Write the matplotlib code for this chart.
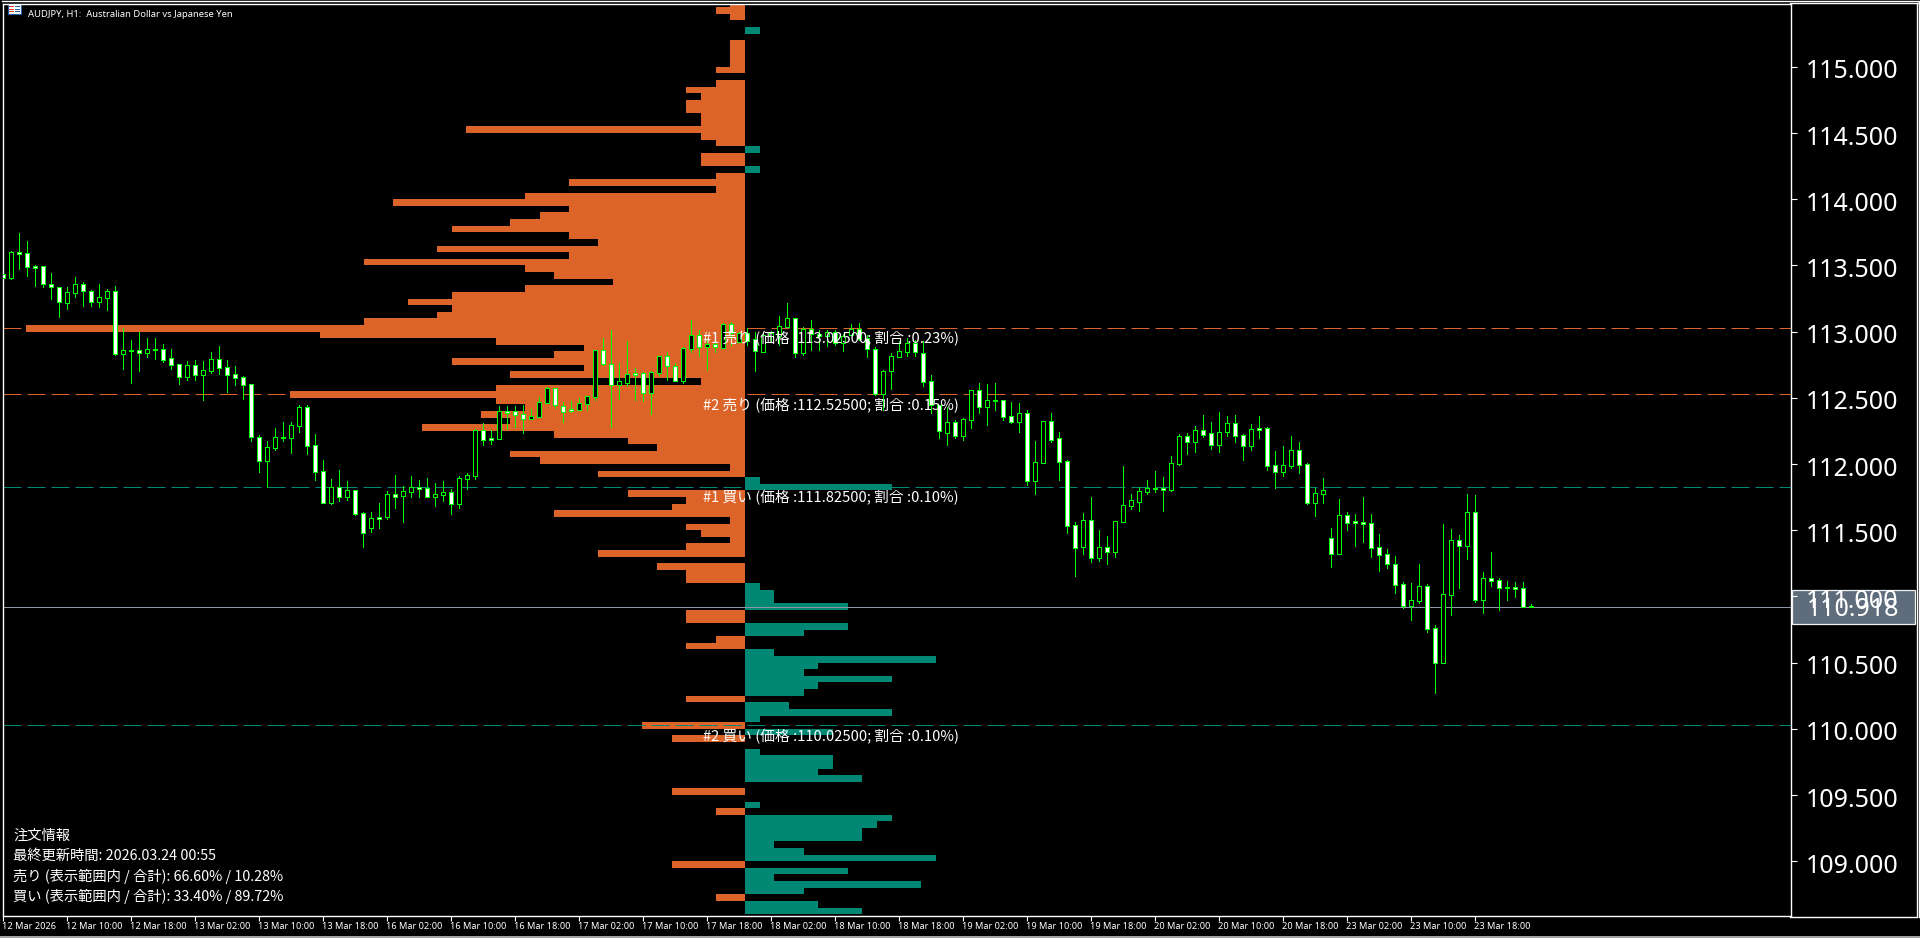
import numpy as np
import matplotlib
matplotlib.use("Agg")
import matplotlib.pyplot as plt
from matplotlib.patches import Rectangle
from matplotlib.lines import Line2D
from matplotlib.transforms import Affine2D

plt.rcParams['font.family'] = ['Noto Sans CJK JP', 'DejaVu Sans']

W, H = 1920, 938
ORANGE = "#dc6428"
TEAL = "#008875"
GREEN = "#00ff00"

# H1 candles
opens = [113.438, 113.407, 113.601, 113.591, 113.493, 113.493, 113.357, 113.334, 113.218, 113.294,
         113.357, 113.304, 113.226, 113.256, 113.304, 112.833, 112.861, 112.858, 112.841, 112.868,
         112.866, 112.798, 112.753, 112.659, 112.745, 112.675, 112.702, 112.790, 112.730, 112.677,
         112.654, 112.602, 112.201, 112.025, 112.123, 112.201, 112.199, 112.289, 112.428, 112.141,
         111.944, 111.708, 111.823, 111.753, 111.801, 111.627, 111.519, 111.597, 111.602, 111.771,
         111.760, 111.791, 111.823, 111.816, 111.750, 111.768, 111.788, 111.700, 111.889, 111.911,
         112.254, 112.193, 112.191, 112.397, 112.397, 112.375, 112.337, 112.357, 112.463, 112.571,
         112.435, 112.413, 112.410, 112.455, 112.508, 112.858, 112.758, 112.596, 112.611, 112.685,
         112.685, 112.533, 112.690, 112.813, 112.737, 112.627, 112.871, 112.972, 112.881, 112.904,
         112.878, 113.055, 112.924, 112.987, 112.941, 112.848, 112.969, 112.969, 113.037, 113.102,
         112.841, 113.017, 112.979, 112.964, 112.994, 112.911, 112.977, 113.017, 112.949, 112.866,
         112.526, 112.700, 112.810, 112.848, 112.911, 112.836, 112.624, 112.443, 112.236, 112.314,
         112.214, 112.334, 112.556, 112.433, 112.483, 112.481, 112.360, 112.319, 112.382, 111.874,
         112.010, 112.322, 112.193, 112.020, 111.536, 111.370, 111.574, 111.292, 111.370, 111.337,
         111.564, 111.685, 111.715, 111.791, 111.816, 111.818, 111.803, 112.002, 112.209, 112.168,
         112.254, 112.231, 112.146, 112.244, 112.307, 112.216, 112.138, 112.269, 112.269, 111.989,
         111.942, 111.987, 112.103, 111.997, 111.707, 111.775, 111.438, 111.322, 111.612, 111.566,
         111.561, 111.551, 111.370, 111.317, 111.242, 111.091, 110.929, 110.967, 111.075, 110.758,
         110.499, 111.012, 111.423, 111.383, 111.634, 110.975, 111.136, 111.121, 111.070, 111.068,
         111.060, 110.927]
highs = [113.440, 113.609, 113.745, 113.684, 113.503, 113.493, 113.443, 113.334, 113.337, 113.412,
         113.375, 113.314, 113.359, 113.322, 113.344, 113.027, 112.936, 112.997, 112.952, 112.952,
         112.906, 112.868, 112.753, 112.778, 112.785, 112.778, 112.846, 112.891, 112.785, 112.740,
         112.662, 112.602, 112.219, 112.173, 112.272, 112.317, 112.317, 112.445, 112.445, 112.226,
         112.030, 111.886, 111.954, 111.871, 111.801, 111.637, 111.637, 111.705, 111.796, 111.917,
         111.833, 111.909, 111.879, 111.894, 111.856, 111.871, 111.811, 111.909, 111.932, 112.261,
         112.307, 112.256, 112.438, 112.438, 112.438, 112.445, 112.413, 112.506, 112.579, 112.571,
         112.468, 112.475, 112.498, 112.513, 112.861, 112.951, 113.012, 112.763, 112.929, 112.725,
         112.695, 112.702, 112.815, 112.846, 112.760, 112.883, 113.087, 113.012, 112.936, 112.936,
         113.062, 113.075, 113.000, 113.024, 113.000, 113.000, 113.002, 113.118, 113.213, 113.102,
         113.035, 113.087, 113.012, 113.012, 113.012, 112.979, 113.057, 113.065, 112.972, 112.883,
         112.710, 112.838, 112.929, 112.951, 112.936, 112.929, 112.672, 112.445, 112.430, 112.332,
         112.347, 112.559, 112.611, 112.604, 112.611, 112.481, 112.468, 112.460, 112.405, 112.173,
         112.324, 112.382, 112.241, 112.030, 111.561, 111.629, 111.750, 111.501, 111.456, 111.567,
         111.984, 111.773, 111.826, 111.879, 111.947, 111.901, 112.060, 112.224, 112.234, 112.287,
         112.370, 112.317, 112.392, 112.362, 112.370, 112.224, 112.302, 112.362, 112.279, 112.098,
         112.136, 112.211, 112.166, 112.007, 111.818, 111.894, 111.516, 111.735, 111.637, 111.622,
         111.750, 111.622, 111.471, 111.357, 111.305, 111.108, 111.101, 111.244, 111.093, 110.783,
         111.546, 111.509, 111.463, 111.773, 111.765, 111.184, 111.335, 111.138, 111.116, 111.108,
         111.108, 110.942]
lows = [113.400, 113.397, 113.473, 113.420, 113.344, 113.337, 113.246, 113.110, 113.171, 113.261,
        113.193, 113.193, 113.186, 113.163, 112.823, 112.717, 112.612, 112.702, 112.808, 112.793,
        112.770, 112.717, 112.604, 112.634, 112.634, 112.483, 112.687, 112.680, 112.544, 112.597,
        112.491, 112.173, 111.939, 111.823, 112.105, 112.173, 112.083, 112.241, 112.075, 111.879,
        111.708, 111.698, 111.720, 111.728, 111.614, 111.373, 111.486, 111.516, 111.584, 111.667,
        111.561, 111.750, 111.750, 111.750, 111.682, 111.720, 111.622, 111.667, 111.811, 111.886,
        112.143, 112.151, 112.191, 112.264, 112.279, 112.234, 112.337, 112.357, 112.458, 112.423,
        112.317, 112.392, 112.408, 112.408, 112.483, 112.747, 112.279, 112.491, 112.589, 112.483,
        112.475, 112.377, 112.664, 112.634, 112.627, 112.611, 112.846, 112.815, 112.710, 112.846,
        112.878, 112.899, 112.924, 112.899, 112.702, 112.846, 112.924, 112.899, 113.037, 112.810,
        112.825, 112.861, 112.861, 112.891, 112.899, 112.853, 112.974, 112.936, 112.808, 112.518,
        112.408, 112.566, 112.808, 112.815, 112.815, 112.589, 112.385, 112.196, 112.143, 112.196,
        112.181, 112.272, 112.385, 112.294, 112.408, 112.332, 112.309, 112.241, 111.841, 111.773,
        112.010, 112.166, 111.879, 111.478, 111.154, 111.320, 111.259, 111.267, 111.244, 111.297,
        111.564, 111.660, 111.645, 111.773, 111.788, 111.645, 111.796, 111.992, 112.075, 112.090,
        112.204, 112.113, 112.090, 112.211, 112.166, 112.030, 112.105, 112.196, 111.954, 111.818,
        111.909, 111.969, 111.932, 111.697, 111.607, 111.705, 111.221, 111.322, 111.501, 111.380,
        111.410, 111.297, 111.191, 111.214, 111.025, 110.912, 110.821, 110.950, 110.730, 110.270,
        110.499, 110.859, 111.063, 111.282, 110.957, 110.874, 111.078, 110.897, 110.972, 110.995,
        110.919, 110.917]
closes = [113.407, 113.599, 113.589, 113.485, 113.483, 113.357, 113.334, 113.221, 113.297, 113.357,
          113.304, 113.226, 113.259, 113.304, 112.833, 112.858, 112.853, 112.841, 112.866, 112.861,
          112.788, 112.750, 112.659, 112.745, 112.675, 112.707, 112.790, 112.727, 112.675, 112.652,
          112.599, 112.206, 112.025, 112.126, 112.201, 112.196, 112.292, 112.428, 112.138, 111.942,
          111.708, 111.823, 111.753, 111.801, 111.625, 111.481, 111.589, 111.587, 111.771, 111.753,
          111.793, 111.823, 111.813, 111.753, 111.770, 111.788, 111.700, 111.891, 111.914, 112.254,
          112.183, 112.183, 112.397, 112.387, 112.372, 112.337, 112.360, 112.465, 112.571, 112.448,
          112.395, 112.403, 112.458, 112.511, 112.858, 112.758, 112.596, 112.624, 112.677, 112.674,
          112.533, 112.692, 112.813, 112.737, 112.629, 112.873, 112.972, 112.881, 112.904, 112.883,
          113.055, 112.987, 112.992, 112.929, 112.851, 112.972, 112.992, 113.040, 113.102, 112.841,
          113.022, 112.979, 112.969, 112.994, 112.911, 112.969, 113.017, 112.946, 112.866, 112.526,
          112.700, 112.813, 112.851, 112.911, 112.843, 112.622, 112.443, 112.246, 112.314, 112.209,
          112.337, 112.556, 112.433, 112.481, 112.475, 112.357, 112.319, 112.382, 111.874, 112.012,
          112.322, 112.183, 112.017, 111.534, 111.368, 111.574, 111.292, 111.370, 111.337, 111.567,
          111.687, 111.725, 111.793, 111.816, 111.811, 111.803, 112.005, 112.209, 112.168, 112.254,
          112.221, 112.146, 112.239, 112.307, 112.214, 112.138, 112.261, 112.259, 111.987, 111.942,
          111.989, 112.103, 111.994, 111.707, 111.778, 111.801, 111.322, 111.612, 111.556, 111.556,
          111.549, 111.368, 111.315, 111.247, 111.088, 110.929, 110.970, 111.075, 110.756, 110.499,
          111.015, 111.423, 111.383, 111.634, 110.972, 111.136, 111.118, 111.065, 111.063, 111.058,
          110.919, 110.918]

# order counts per 0.05 price row, top row first
sell_counts = [1, 2, 1, 0, 0, 0, 1, 1, 1, 1,
               2, 0, 2, 4, 3, 4, 4, 3, 3, 19,
               3, 2, 0, 3, 3, 0, 2, 12, 2, 15,
               24, 12, 14, 16, 20, 12, 10, 21, 12, 26,
               15, 13, 9, 15, 20, 23, 20, 21, 26, 49,
               29, 17, 11, 13, 20, 11, 16, 3, 17, 31,
               17, 15, 18, 16, 22, 13, 8, 6, 16, 14,
               1, 10, 0, 0, 8, 4, 5, 13, 1, 4,
               3, 1, 4, 10, 0, 6, 4, 4, 0, 0,
               0, 0, 4, 4, 0, 0, 2, 4, 0, 0,
               0, 0, 0, 0, 0, 4, 0, 0, 0, 7,
               0, 5, 0, 0, 0, 0, 0, 0, 0, 5,
               0, 0, 2, 0, 0, 0, 0, 0, 0, 0,
               5, 0, 0, 0, 0, 2, 0, 0]
buy_counts = [0, 0, 0, 0, 1, 0, 0, 0, 0, 0,
              0, 0, 0, 0, 0, 0, 0, 0, 0, 0,
              0, 0, 1, 0, 0, 1, 0, 0, 0, 0,
              0, 0, 0, 0, 0, 0, 0, 0, 0, 0,
              0, 0, 0, 0, 0, 0, 0, 0, 0, 0,
              0, 0, 0, 0, 0, 0, 0, 0, 0, 0,
              0, 0, 0, 0, 0, 0, 0, 0, 0, 0,
              0, 0, 1, 10, 0, 0, 0, 0, 0, 0,
              0, 0, 0, 0, 0, 0, 0, 0, 1, 2,
              2, 7, 0, 0, 7, 4, 0, 0, 2, 13,
              5, 4, 10, 5, 4, 0, 3, 10, 1, 0,
              6, 0, 0, 1, 6, 6, 5, 8, 0, 0,
              0, 1, 0, 10, 9, 8, 8, 2, 4, 13,
              0, 7, 2, 12, 4, 0, 5, 8]
top_row_price = 115.475
row_step = 0.05

sell_levels = [113.025, 112.525]
buy_levels = [111.825, 110.025]
current_price = 110.918

level_labels = ["#1 売り (価格 :113.02500; 割合 :0.23%)",
                "#2 売り (価格 :112.52500; 割合 :0.15%)",
                "#1 買い (価格 :111.82500; 割合 :0.10%)",
                "#2 買い (価格 :110.02500; 割合 :0.10%)"]
level_label_prices = [113.025, 112.525, 111.825, 110.025]

price_ticks = [115.0, 114.5, 114.0, 113.5, 113.0, 112.5, 112.0, 111.5, 111.0, 110.5, 110.0, 109.5, 109.0]
time_labels = ["12 Mar 2026", "12 Mar 10:00", "12 Mar 18:00", "13 Mar 02:00", "13 Mar 10:00", "13 Mar 18:00",
               "16 Mar 02:00", "16 Mar 10:00", "16 Mar 18:00", "17 Mar 02:00", "17 Mar 10:00", "17 Mar 18:00",
               "18 Mar 02:00", "18 Mar 10:00", "18 Mar 18:00", "19 Mar 02:00", "19 Mar 10:00", "19 Mar 18:00",
               "20 Mar 02:00", "20 Mar 10:00", "20 Mar 18:00", "23 Mar 02:00", "23 Mar 10:00", "23 Mar 18:00"]

info_lines = ["注文情報", "最終更新時間: 2026.03.24 00:55",
              "売り (表示範囲内 / 合計): 66.60% / 10.28%",
              "買い (表示範囲内 / 合計): 33.40% / 89.72%"]
info_y = [836, 856, 876, 896]


def fx(x):
    return x / W


def fy(y):
    return 1 - y / H


fig = plt.figure(figsize=(W / 100, H / 100), dpi=100, facecolor="black")
left, right, top, bottom = 2.5, 1790.5, 4, 916
pos = [fx(left), fy(bottom), (right - left) / W, (bottom - top) / H]

# order profile sits under the candles
ax_prof = fig.add_axes(pos, zorder=1)
ax_prof.set_facecolor("black")
ax_prof.axis("off")
ax_prof.set_xlim((left - 745) / 14.67, (right - 745) / 14.67)

ax = fig.add_axes(pos, zorder=2)
ax.patch.set_visible(False)
ax.set_xlim((left - 2.5) / 8, (right - 2.5) / 8)

y_top = 113.025 + (328.3 - top) / 132.4
y_bottom = 113.025 - (bottom - 328.3) / 132.4
ax.set_ylim(y_bottom, y_top)
ax_prof.set_ylim(y_bottom, y_top)

rows = top_row_price - row_step * np.arange(len(sell_counts))
ax_prof.barh(rows, -np.array(sell_counts), height=row_step, color=ORANGE, linewidth=0, antialiased=False)
ax_prof.barh(rows, np.array(buy_counts), height=row_step, color=TEAL, linewidth=0, antialiased=False)

for p in sell_levels:
    ax.axhline(p, color=ORANGE, lw=0.72, linestyle=(0, (18, 6)), zorder=1)
for p in buy_levels:
    ax.axhline(p, color=TEAL, lw=0.72, linestyle=(0, (18, 6)), zorder=1)
ax.axhline(current_price, color="#8a96a3", lw=0.72, zorder=1)

bars = np.arange(len(opens))
o = np.array(opens)
c = np.array(closes)
ax.vlines(bars, lows, highs, color=GREEN, lw=0.6, zorder=2, antialiased=False)
face = np.where(c < o, "white", "black")
ax.bar(bars, np.abs(c - o), bottom=np.minimum(o, c), width=0.5, color=face,
       edgecolor=GREEN, linewidth=0.6, zorder=3, antialiased=False)

for txt, p in zip(level_labels, level_label_prices):
    ax.text(87.55, p - 0.081, txt, color="white", fontsize=10.6, va="center", ha="left", zorder=5)

for s in ["top", "left", "bottom", "right"]:
    ax.spines[s].set_color("white")
    ax.spines[s].set_linewidth(1.0)

ax.yaxis.tick_right()
ax.set_yticks(price_ticks)
ax.set_yticklabels(["%.3f" % p for p in price_ticks], color="white", fontsize=18, family="Noto Sans")
ax.tick_params(axis="y", length=4.3, width=0.8, color="white", pad=6)
for lab in ax.get_yticklabels():
    lab.set_transform(lab.get_transform() + Affine2D().translate(1, -2))

ax.set_xticks(np.arange(len(time_labels)) * 8)
ax.set_xticklabels(time_labels, color="white", fontsize=6.6, family="Noto Sans", ha="left")
ax.tick_params(axis="x", length=3.6, width=0.8, color="white", pad=0.5)
for lab in ax.get_xticklabels():
    lab.set_transform(lab.get_transform() + Affine2D().translate(-1, 0))

# outer chart frame
fig.add_artist(Line2D([fx(2), fx(1918)], [fy(1.5), fy(1.5)], color="white", lw=1.0))
fig.add_artist(Line2D([fx(1790), fx(1917.5)], [fy(3.5), fy(3.5)], color="white", lw=1.0))
fig.add_artist(Line2D([fx(1917), fx(1917)], [fy(3), fy(916)], color="white", lw=1.0))
fig.add_artist(Line2D([fx(1919), fx(1919)], [fy(1), fy(917)], color="white", lw=1.0))
fig.add_artist(Line2D([fx(1790), fx(1917)], [fy(916.5), fy(916.5)], color="white", lw=1.0))
fig.add_artist(Rectangle((0, 0), 1, 2 / H, transform=fig.transFigure, color="#a0a0a0", lw=0))

# current price box
fig.add_artist(Rectangle((fx(1792), fy(624)), 123 / W, 34 / H, transform=fig.transFigure,
                         facecolor="#667585", edgecolor="white", lw=0.9, alpha=0.93))
fig.text(fx(1807), fy(610), "%.3f" % current_price, color="white", fontsize=18, family="Noto Sans", va="center")

# symbol flag and title
fig.add_artist(Rectangle((fx(8), fy(14.5)), 13 / W, 10 / H, transform=fig.transFigure,
                         facecolor="white", edgecolor="#1f5fa8", lw=0.8))
for sy in [6.5, 9, 11.5]:
    fig.add_artist(Rectangle((fx(9), fy(sy + 1)), 5 / W, 1 / H, transform=fig.transFigure, color="#d8402c", lw=0))
    fig.add_artist(Rectangle((fx(15), fy(sy + 1)), 5 / W, 1 / H, transform=fig.transFigure, color="#1f5fa8", lw=0))
fig.text(fx(28), fy(14.5), "AUDJPY, H1:  Australian Dollar vs Japanese Yen", color="white",
         fontsize=6.8, family="Noto Sans", va="center")

for txt, y in zip(info_lines, info_y):
    fig.text(fx(13), fy(y), txt, color="white", fontsize=10.3, va="center")

fig.savefig("out.png", dpi=100, facecolor="black")
